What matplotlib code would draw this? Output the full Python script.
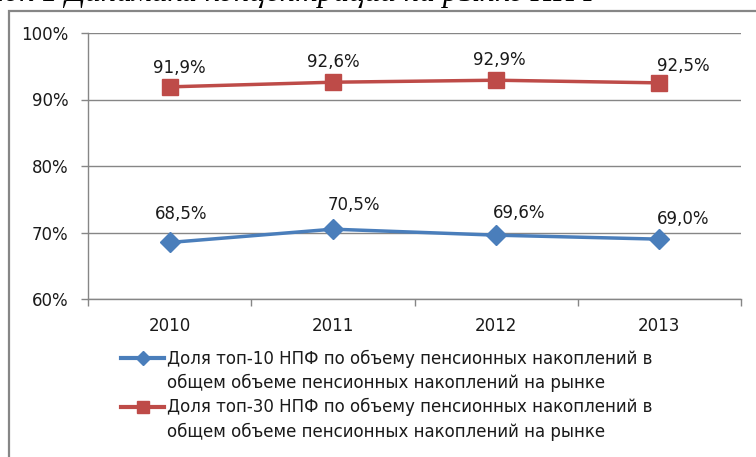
import numpy as np
import matplotlib.pyplot as plt
from matplotlib.patches import Rectangle
from matplotlib.lines import Line2D

# данные
years = ['2010', '2011', '2012', '2013']
top10 = [68.5, 70.5, 69.6, 69.0]
top30 = [91.9, 92.6, 92.9, 92.5]
label10 = ['Доля топ-10 НПФ по объему пенсионных накоплений в',
           'общем объеме пенсионных накоплений на рынке']
label30 = ['Доля топ-30 НПФ по объему пенсионных накоплений в',
           'общем объеме пенсионных накоплений на рынке']
caption = 'Рисунок 1 Динамика концентрации на рынке НПФ'

# смещения подписей (пиксели)
off10 = [(11, 28), (21, 24), (23, 22), (24, 20)]
off30 = [(10, 19), (0, 20), (3, 20), (24, 17)]

blue = '#4A7EBB'
red = '#BE4B48'
grid = '#868686'
txt = '#1a1a1a'

plt.rcParams['font.family'] = ['DejaVu Sans']

fig = plt.figure(figsize=(7.56, 4.57), dpi=100)
W, H = 756, 457

# рамка диаграммы
fig.patches.append(Rectangle((9 / W, -0.1), 1.2, 1.1 - 11 / H, transform=fig.transFigure,
                             fill=False, edgecolor=grid, linewidth=1.6))

# обрезанная подпись сверху
fig.text(601 / W, 1 - 1.5 / H, caption, ha='right', va='baseline', fontsize=22.5,
         family='Liberation Serif', style='italic', color='black')

ax = fig.add_axes([88 / W, 1 - 299 / H, (741 - 88) / W, (299 - 33) / H])
x = np.arange(len(years))

ax.plot(x, top10, color=blue, linewidth=2.5, marker='D', markersize=10,
        markerfacecolor=blue, markeredgecolor=blue, zorder=3)
ax.plot(x, top30, color=red, linewidth=2.5, marker='s', markersize=11,
        markerfacecolor=red, markeredgecolor=red, zorder=3)

for xi, v, (dx, dy) in zip(x, top10, off10):
    ax.annotate(f'{v:.1f}%'.replace('.', ','), (xi, v), xytext=(dx, dy),
                textcoords='offset pixels', ha='center', va='center',
                fontsize=12, color=txt)
for xi, v, (dx, dy) in zip(x, top30, off30):
    ax.annotate(f'{v:.1f}%'.replace('.', ','), (xi, v), xytext=(dx, dy),
                textcoords='offset pixels', ha='center', va='center',
                fontsize=12, color=txt)

ax.set_xlim(-0.5, 3.5)
ax.set_ylim(60, 100)
ax.set_yticks([60, 70, 80, 90, 100])
ax.set_yticklabels(['60%', '70%', '80%', '90%', '100%'])
ax.set_xticks(x)
ax.set_xticklabels(years)
ax.set_xticks(np.arange(-0.5, 4.0, 1.0), minor=True)
ax.tick_params(axis='x', which='major', length=0, pad=13, labelsize=12, labelcolor=txt)
ax.tick_params(axis='x', which='minor', length=5, color=grid, width=1)
ax.tick_params(axis='y', length=5, color=grid, width=1, pad=9, labelsize=12, labelcolor=txt)
ax.yaxis.grid(True, color=grid, linewidth=1)
ax.set_axisbelow(True)
for s in ['top', 'right']:
    ax.spines[s].set_visible(False)
for s in ['left', 'bottom']:
    ax.spines[s].set_color(grid)
    ax.spines[s].set_linewidth(1)

# легенда (значок у первой строки подписи)
entries = [(blue, 'D', 7, label10, 358), (red, 's', 9, label30, 407)]
for color, mk, ms, lines, yc in entries:
    yf = 1 - yc / H
    fig.add_artist(Line2D([121 / W, 164 / W], [yf, yf], transform=fig.transFigure,
                          color=color, linewidth=3))
    fig.add_artist(Line2D([142.5 / W], [yf], transform=fig.transFigure,
                          color=color, marker=mk, markersize=ms, linestyle='none'))
    for k, line in enumerate(lines):
        fig.text(167 / W, 1 - (yc + 5.5 + 24.5 * k) / H, line, ha='left', va='baseline',
                 fontsize=12, color=txt)

fig.savefig('out.png', dpi=100)
